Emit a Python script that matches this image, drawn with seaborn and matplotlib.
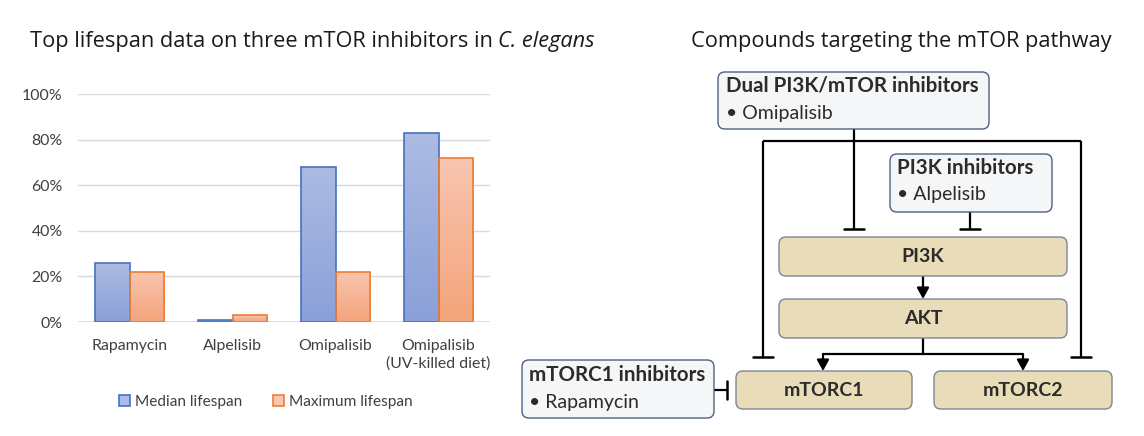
import numpy as np
import pandas as pd
import matplotlib
matplotlib.use("Agg")
import matplotlib.pyplot as plt
import seaborn as sns
from matplotlib.patches import FancyBboxPatch, Patch
from matplotlib.colors import LinearSegmentedColormap
from matplotlib.ticker import PercentFormatter

# ---------------- data ----------------
categories = ["Rapamycin", "Alpelisib", "Omipalisib", "Omipalisib\n(UV-killed diet)"]
median_lifespan = [26, 1, 68, 83]
maximum_lifespan = [22, 3, 22, 72]
series_names = ["Median lifespan", "Maximum lifespan"]
y_ticks = [0, 20, 40, 60, 80, 100]

chart_title = "Top lifespan data on three mTOR inhibitors in "
chart_title_italic = "C. elegans"
diagram_title = "Compounds targeting the mTOR pathway"

df = pd.DataFrame({
    "compound": categories * 2,
    "value": median_lifespan + maximum_lifespan,
    "series": [series_names[0]] * len(categories) + [series_names[1]] * len(categories),
})

sns.set_theme(style="white")
plt.rcParams["font.family"] = ["Lato", "DejaVu Sans"]

W, H = 1144, 436
fig = plt.figure(figsize=(W / 100, H / 100), dpi=100)

def fx(px):
    return px / W

def fy(py):
    return 1 - py / H

# ---------------- bar chart ----------------
ax = fig.add_axes([fx(78), fy(322), fx(490) - fx(78), fy(94) - fy(322)])
edge_cols = {series_names[0]: "#4472c4", series_names[1]: "#ed7d31"}
grad = {series_names[0]: ("#8aa0d8", "#acbbe2"), series_names[1]: ("#f4a47b", "#f8c5b0")}
sns.barplot(data=df, x="compound", y="value", hue="series", order=categories,
            hue_order=series_names, palette=[grad[s][0] for s in series_names],
            width=0.67, ax=ax, legend=False, zorder=3)

bars = [p for p in ax.patches]
n = len(categories)
for i, p in enumerate(bars[: 2 * n]):
    s = series_names[i // n]
    x0, y0 = p.get_x(), p.get_y()
    w, h = p.get_width(), p.get_height()
    cmap = LinearSegmentedColormap.from_list("g", [grad[s][0], grad[s][1]])
    g = np.linspace(0, 1, 64).reshape(-1, 1)
    im = ax.imshow(g, extent=[x0, x0 + w, y0, y0 + h], origin="lower", aspect="auto",
                   cmap=cmap, zorder=2.5, interpolation="bilinear")
    im.set_clip_path(p)
    p.set_facecolor("none")
    p.set_edgecolor(edge_cols[s])
    p.set_linewidth(1.2)

ax.set_xlim(-0.5, n - 0.5)
ax.set_ylim(0, 100)
ax.set_yticks(y_ticks)
ax.yaxis.set_major_formatter(PercentFormatter(xmax=100, decimals=0))
ax.grid(axis="y", color="#d9d9d9", lw=1, zorder=0)
ax.grid(axis="x", visible=False)
for sp in ax.spines.values():
    sp.set_visible(False)
ax.axhline(0, color="#d9d9d9", lw=1.2, zorder=1)
ax.tick_params(axis="both", length=0, labelsize=11.4, colors="#404040")
ax.tick_params(axis="y", pad=11)
ax.tick_params(axis="x", pad=12)
for lbl in ax.get_xticklabels():
    lbl.set_linespacing(1.35)
ax.set_xlabel("")
ax.set_ylabel("")

handles = [Patch(facecolor=grad[s][1], edgecolor=edge_cols[s], lw=1.2) for s in series_names]
fig.legend(handles, series_names, loc="center", bbox_to_anchor=(fx(266), fy(402)), ncol=2,
           frameon=False, fontsize=11.1, handlelength=0.7, handleheight=0.7,
           handletextpad=0.35, columnspacing=2.0, labelcolor="#404040")

# titles
tfont = ["Open Sans", "DejaVu Sans"]
t1 = fig.text(fx(30), fy(42), chart_title, fontsize=15.7, color="#1a1a1a",
              family=tfont, va="center", ha="left")
fig.canvas.draw()
bb = t1.get_window_extent()
fig.text(bb.x1 / W, fy(42), chart_title_italic, fontsize=15.7, color="#1a1a1a",
         family=tfont, style="italic", va="center", ha="left")
fig.text(fx(901), fy(42), diagram_title, fontsize=15.7, color="#1a1a1a",
         family=tfont, va="center", ha="center")

# ---------------- diagram ----------------
dx = fig.add_axes([0, 0, 1, 1], zorder=5)
dx.set_xlim(0, W)
dx.set_ylim(H, 0)
dx.axis("off")
dx.patch.set_alpha(0)

TAN, TAN_EDGE = "#e9dcb9", "#7f8594"
INH, INH_EDGE = "#f5f6f8", "#4f5f86"
TXT = "#2b2b2b"
dfont = ["Lato", "DejaVu Sans"]
BOLD_FS, REG_FS, PATH_FS = 14.8, 14.0, 14.0

def box(x0, y0, x1, y1, fc, ec):
    dx.add_patch(FancyBboxPatch((x0, y0), x1 - x0, y1 - y0,
                                boxstyle="round,pad=0,rounding_size=7",
                                fc=fc, ec=ec, lw=1.0, zorder=2))

def line(xs, ys):
    dx.plot(xs, ys, color="black", lw=1.6, zorder=1, solid_capstyle="butt")

def tbar(x, y, half=10, vertical=False):
    if vertical:
        dx.plot([x, x], [y - half, y + half], color="black", lw=1.8, zorder=1)
    else:
        dx.plot([x - half, x + half], [y, y], color="black", lw=1.8, zorder=1)

def arrow(x, y0, y1):
    dx.annotate("", xy=(x, y1), xytext=(x, y0),
                arrowprops=dict(arrowstyle="-|>,head_length=0.55,head_width=0.3", lw=1.6,
                                color="black", shrinkA=0, shrinkB=0), zorder=1)

# inhibitor boxes
box(718, 72, 989, 129, INH, INH_EDGE)
dx.text(726, 86, "Dual PI3K/mTOR inhibitors", fontsize=BOLD_FS, weight="bold", color=TXT,
        family=dfont, va="center", ha="left")
dx.text(726, 113, "• Omipalisib", fontsize=REG_FS, color=TXT, family=dfont, va="center", ha="left")

box(890, 154, 1052, 212, INH, INH_EDGE)
dx.text(897, 168, "PI3K inhibitors", fontsize=BOLD_FS, weight="bold", color=TXT,
        family=dfont, va="center", ha="left")
dx.text(897, 194, "• Alpelisib", fontsize=REG_FS, color=TXT, family=dfont, va="center", ha="left")

box(522, 360, 714, 418, INH, INH_EDGE)
dx.text(529, 375, "mTORC1 inhibitors", fontsize=BOLD_FS, weight="bold", color=TXT,
        family=dfont, va="center", ha="left")
dx.text(529, 402, "• Rapamycin", fontsize=REG_FS, color=TXT, family=dfont, va="center", ha="left")

# pathway boxes
for (x0, y0, x1, y1, label) in [(779, 237, 1067, 276, "PI3K"), (779, 299, 1067, 338, "AKT"),
                                (736, 371, 912, 409, "mTORC1"), (934, 371, 1112, 409, "mTORC2")]:
    box(x0, y0, x1, y1, TAN, TAN_EDGE)
    dx.text((x0 + x1) / 2, (y0 + y1) / 2, label, fontsize=PATH_FS, weight="bold", color=TXT,
            family=dfont, va="center", ha="center")

# connectors
line([854, 854], [129, 229]); tbar(854, 229)
line([763, 1081], [141, 141])
line([763, 763], [141, 357]); tbar(763, 357)
line([1081, 1081], [141, 357]); tbar(1081, 357)
line([970, 970], [212, 229]); tbar(970, 229)
arrow(923, 276, 299)
line([923, 923], [338, 354])
line([823, 1023], [354, 354])
arrow(823, 354, 371)
arrow(1023, 354, 371)
line([714, 727], [390, 390]); tbar(727, 390, half=9, vertical=True)

fig.savefig("out.png", dpi=100)
